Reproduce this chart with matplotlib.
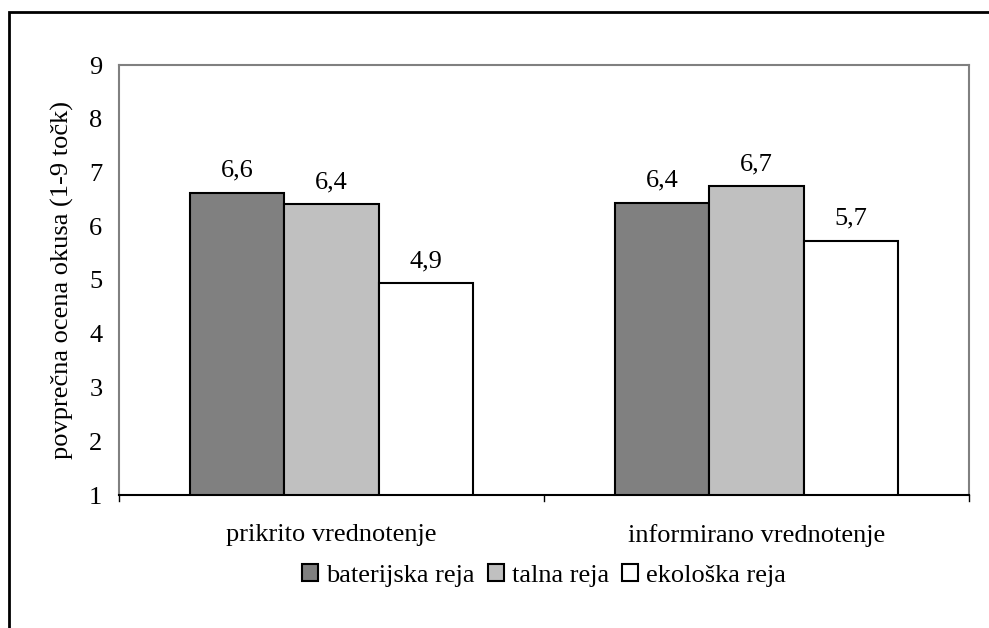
import matplotlib.pyplot as plt
from matplotlib.patches import Rectangle
import numpy as np

# ---------------- data ----------------
categories = ["prikrito vrednotenje", "informirano vrednotenje"]
series = ["baterijska reja", "talna reja", "ekološka reja"]
baterijska = [6.62, 6.44]
talna = [6.41, 6.74]
ekoloska = [4.94, 5.73]
labels_bat = ["6,6", "6,4"]
labels_tal = ["6,4", "6,7"]
labels_eko = ["4,9", "5,7"]
y_ticks = [1, 2, 3, 4, 5, 6, 7, 8, 9]

colors = ["#808080", "#c0c0c0", "#ffffff"]

plt.rcParams['font.family'] = ['Liberation Serif', 'DejaVu Serif']
FS = 19

W, H = 989, 628
fig = plt.figure(figsize=(W / 100, H / 100), dpi=100)
ax = fig.add_axes([119 / W, 1 - 495 / H, 850 / W, 430 / H])

x = np.arange(len(categories))
bw = 1 / 4.5  # gap width 150 %
values = [baterijska, talna, ekoloska]
labels = [labels_bat, labels_tal, labels_eko]
for i, (vals, labs) in enumerate(zip(values, labels)):
    pos = x + (i - 1) * bw
    ax.bar(pos, np.array(vals) - 1, bottom=1, width=bw, color=colors[i],
           edgecolor="black", lw=1.5, label=series[i], zorder=3)
    for p, v, t in zip(pos, vals, labs):
        ax.annotate(t, (p, v), xytext=(0, 8), textcoords="offset points",
                    ha="center", va="bottom", fontsize=FS)

ax.set_xlim(-0.5, 1.5)
ax.set_ylim(1, 9)
ax.set_yticks(y_ticks)
ax.set_yticklabels([str(v) for v in y_ticks], fontsize=FS)
ax.tick_params(axis="y", length=0, pad=12)

ax.set_xticks(x)
ax.set_xticklabels(categories, fontsize=FS)
ax.tick_params(axis="x", length=0, pad=21)
# category boundary ticks
for b in [-0.5, 0.5, 1.5]:
    ax.plot([b, b], [1, 0.88], color="black", lw=1, clip_on=False)

for s in ["left", "top", "right"]:
    ax.spines[s].set_color("#808080")
    ax.spines[s].set_linewidth(1.5)
ax.spines["bottom"].set_color("black")
ax.spines["bottom"].set_linewidth(1.5)

ax.set_ylabel("povprečna ocena okusa (1-9 točk)", fontsize=FS, labelpad=11)

ax.legend(loc="upper center", bbox_to_anchor=(0.5, -0.13), ncol=3,
          frameon=False, fontsize=FS, handlelength=0.6, handleheight=0.6,
          handletextpad=0.3, columnspacing=0.5, borderpad=0)

# outer frame (clipped by the image at right and bottom)
fig.patches.append(Rectangle((9 / W, -0.1), 1.2, 1 - 12 / H + 0.1,
                             transform=fig.transFigure, fill=False,
                             edgecolor="black", lw=2))

fig.savefig("out.png", dpi=100)
